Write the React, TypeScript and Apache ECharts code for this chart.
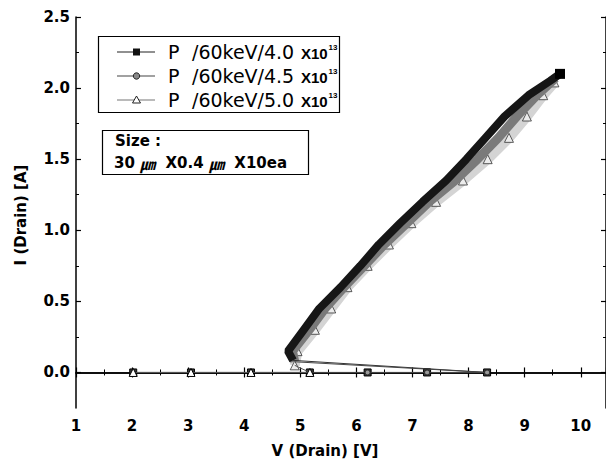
import React, { useEffect, useRef } from "react";
import * as echarts from "echarts";

// ---- data ----
const xTicks = [1, 2, 3, 4, 5, 6, 7, 8, 9, 10];
const yMajor = [0, 0.5, 1.0, 1.5, 2.0, 2.5];
const yMinor = [0.25, 0.75, 1.25, 1.75, 2.25];

// series 1 : P /60keV/4.0 X10^13 (black squares)
const s1LowV = [2.02, 3.05, 4.12, 5.17, 6.2, 7.26, 8.33, 4.87];
const s1LowI = [0, 0, 0, 0, 0, 0, 0, 0.085];
const s1HighV = [4.87, 4.78, 5.06, 5.34, 5.72, 6.07, 6.4, 6.78, 7.18, 7.6, 7.96, 8.3, 8.64, 9.07, 9.45, 9.63];
const s1HighI = [0.085, 0.15, 0.3, 0.45, 0.6, 0.75, 0.9, 1.05, 1.2, 1.35, 1.5, 1.65, 1.8, 1.95, 2.05, 2.1];

// series 2 : P /60keV/4.5 X10^13 (grey circles)
const s2LowV = [2.02, 3.05, 4.12, 5.17, 6.2, 7.26, 8.33, 4.9];
const s2LowI = [0, 0, 0, 0, 0, 0, 0, 0.075];
const s2HighV = [4.9, 4.86, 5.16, 5.44, 5.78, 6.14, 6.5, 6.9, 7.3, 7.76, 8.16, 8.53, 8.86, 9.22, 9.55];
const s2HighI = [0.075, 0.15, 0.3, 0.45, 0.6, 0.75, 0.9, 1.05, 1.2, 1.35, 1.5, 1.65, 1.8, 1.95, 2.07];

// series 3 : P /60keV/5.0 X10^13 (open triangles)
const s3LowV = [2.02, 3.05, 4.12, 5.17, 4.9];
const s3LowI = [0, 0, 0, 0, 0.05];
const s3HighV = [4.9, 4.95, 5.26, 5.55, 5.84, 6.2, 6.58, 6.98, 7.42, 7.9, 8.34, 8.72, 9.04, 9.33, 9.53];
const s3HighI = [0.05, 0.15, 0.3, 0.45, 0.6, 0.75, 0.9, 1.05, 1.2, 1.35, 1.5, 1.65, 1.8, 1.95, 2.04];

const legendDoses = ["/60keV/4.0", "/60keV/4.5", "/60keV/5.0"];

const pairs = (v: number[], i: number[]) => v.map((x, k) => [x, i[k]]);

const FONT = "DejaVu Sans";

export default function App() {
  const ref = useRef<HTMLDivElement>(null);
  useEffect(() => {
    if (!ref.current) return;
    const chart = echarts.init(ref.current, undefined, { renderer: "svg" });

    const axisLine = { show: true, lineStyle: { color: "#000", width: 1.5 } };
    const lbl = { color: "#000", fontFamily: FONT, fontWeight: "bold" as const, fontSize: 15 };

    const lastOnly = (n: number, size: number) => (_v: any, p: any) => (p.dataIndex === n - 1 ? size : 0);
    const notLast = (n: number, size: number) => (_v: any, p: any) => (p.dataIndex === n - 1 ? 0 : size);

    const rowsY = [52, 76, 100];
    const legendGraphics: any[] = [
      { type: "rect", shape: { x: 98.5, y: 36.5, width: 241, height: 76 }, style: { fill: "#fff", stroke: "#000", lineWidth: 1.2 }, z: 100 },
      { type: "rect", shape: { x: 102.5, y: 130.5, width: 206, height: 44 }, style: { fill: "#fff", stroke: "#000", lineWidth: 1.2 }, z: 100 },
      { type: "text", x: 115, y: 141, style: { text: "Size :", font: `bold 15px '${FONT}'`, fill: "#000", textVerticalAlign: "middle" }, z: 101 },
      {
        type: "text",
        x: 114,
        y: 163,
        style: {
          text: "{b|30 }{u|㎛}{b|  X0.4 }{u|㎛}{b|  X10ea}",
          rich: {
            b: { font: `bold 15px '${FONT}'`, fill: "#000" },
            u: { font: "italic bold 15px 'Noto Sans CJK KR'", fill: "#000" },
          },
          textVerticalAlign: "middle",
        },
        z: 101,
      },
    ];
    const lineCols = ["#222", "#444", "#777"];
    rowsY.forEach((y, k) => {
      legendGraphics.push({ type: "line", shape: { x1: 117, y1: y, x2: 155, y2: y }, style: { stroke: lineCols[k], lineWidth: 1.2 }, z: 101 });
      if (k === 0) legendGraphics.push({ type: "rect", shape: { x: 133, y: y - 3.5, width: 7, height: 7 }, style: { fill: "#111" }, z: 102 });
      if (k === 1) legendGraphics.push({ type: "circle", shape: { cx: 136.5, cy: y, r: 3.2 }, style: { fill: "#888", stroke: "#222", lineWidth: 1 }, z: 102 });
      if (k === 2) legendGraphics.push({ type: "polygon", shape: { points: [[136.5, y - 4], [140.5, y + 3], [132.5, y + 3]] }, style: { fill: "#fff", stroke: "#222", lineWidth: 1 }, z: 102 });
      legendGraphics.push({ type: "text", x: 168, y: y, style: { text: "P", font: `19px '${FONT}'`, fill: "#000", textVerticalAlign: "middle" }, z: 101 });
      legendGraphics.push({ type: "text", x: 192, y: y, style: { text: legendDoses[k], font: `19px '${FONT}'`, fill: "#000", textVerticalAlign: "middle" }, z: 101 });
      legendGraphics.push({ type: "text", x: 301, y: y + 1, style: { text: "X10", font: "bold 15px 'Liberation Sans'", fill: "#000", textVerticalAlign: "middle" }, z: 101 });
      legendGraphics.push({ type: "text", x: 328.5, y: y - 5, style: { text: "13", font: "bold 8px 'Liberation Sans'", fill: "#000", textVerticalAlign: "middle" }, z: 101 });
    });

    const option: any = {
      animation: false,
      backgroundColor: "#fff",
      grid: { left: 76, top: 17, width: 530, height: 391, containLabel: false },
      xAxis: [
        {
          type: "value", min: 1, max: 10.45, interval: 1, position: "bottom",
          axisLine, splitLine: { show: false },
          axisTick: { inside: true, length: 5, lineStyle: { color: "#000", width: 1.2 } },
          minorTick: { show: true, splitNumber: 2, length: 3, lineStyle: { color: "#000", width: 1 } },
          axisLabel: { ...lbl, margin: 10, showMaxLabel: false, formatter: (v: number) => (xTicks.includes(v) ? String(v) : "") },
        },
        {
          type: "value", min: 1, max: 10.45, interval: 1, position: "top",
          axisLine, splitLine: { show: false },
          axisTick: { inside: true, length: 5, lineStyle: { color: "#000", width: 1.2 } },
          minorTick: { show: true, splitNumber: 2, length: 3, lineStyle: { color: "#000", width: 1 } },
          axisLabel: { show: false },
        },
      ],
      yAxis: [
        {
          type: "value", min: -0.25, max: 2.5, position: "left", offset: 0,
          axisLine, splitLine: { show: false },
          axisTick: { inside: true, length: 5, customValues: yMajor, lineStyle: { color: "#000", width: 1.2 } },
          axisLabel: { ...lbl, margin: 6, customValues: yMajor, formatter: (v: number) => v.toFixed(1) },
        },
        {
          type: "value", min: -0.25, max: 2.5, position: "left", offset: 0,
          axisLine: { show: false }, splitLine: { show: false },
          axisTick: { inside: true, length: 3, customValues: yMinor, lineStyle: { color: "#000", width: 1 } },
          axisLabel: { show: false },
        },
        {
          type: "value", min: -0.25, max: 2.5, position: "right", offset: 0,
          axisLine, splitLine: { show: false },
          axisTick: { inside: true, length: 5, customValues: yMajor, lineStyle: { color: "#000", width: 1.2 } },
          axisLabel: { show: false },
        },
        {
          type: "value", min: -0.25, max: 2.5, position: "right", offset: 0,
          axisLine: { show: false }, splitLine: { show: false },
          axisTick: { inside: true, length: 3, customValues: yMinor, lineStyle: { color: "#000", width: 1 } },
          axisLabel: { show: false },
        },
      ],
      series: [
        {
          type: "line", data: pairs(s3HighV, s3HighI), showAllSymbol: true,
          lineStyle: { color: "#d4d4d4", width: 10 },
          symbol: "triangle", symbolSize: 9,
          itemStyle: { color: "#ececec", borderColor: "#333", borderWidth: 0.8 }, z: 2,
        },
        {
          type: "line", data: pairs(s2HighV, s2HighI), showAllSymbol: true,
          lineStyle: { color: "#7a7a7a", width: 9 },
          symbol: "circle", symbolSize: 0, itemStyle: { color: "#777" }, z: 3,
        },
        {
          type: "line", data: pairs(s1HighV, s1HighI), showAllSymbol: true,
          lineStyle: { color: "#161616", width: 8 },
          symbol: "rect", symbolSize: lastOnly(s1HighV.length, 10), itemStyle: { color: "#000" }, z: 4,
        },
        {
          type: "line", data: pairs(s1LowV, s1LowI), showAllSymbol: true,
          lineStyle: { color: "#333", width: 1 },
          symbol: "rect", symbolSize: notLast(s1LowV.length, 7),
          itemStyle: { color: "#3a3a3a", borderColor: "#000", borderWidth: 1 }, z: 5,
        },
        {
          type: "line", data: pairs(s2LowV, s2LowI), showAllSymbol: true,
          lineStyle: { color: "#444", width: 1 },
          symbol: "circle", symbolSize: notLast(s2LowV.length, 5),
          itemStyle: { color: "#999", borderColor: "#222", borderWidth: 1 }, z: 6,
        },
        {
          type: "line", data: pairs(s3LowV, s3LowI), showAllSymbol: true,
          lineStyle: { color: "#555", width: 1 },
          symbol: "triangle", symbolSize: notLast(s3LowV.length, 8),
          itemStyle: { color: "#fff", borderColor: "#000", borderWidth: 1 }, z: 7,
        },
      ],
      graphic: [
        ...legendGraphics,
        { type: "text", x: 325, y: 451, style: { text: "V (Drain) [V]", font: `bold 15px '${FONT}'`, fill: "#000", textAlign: "center", textVerticalAlign: "middle" } },
        { type: "text", x: 21, y: 215, rotation: Math.PI / 2, style: { text: "I (Drain) [A]", font: `bold 15px '${FONT}'`, fill: "#000", textAlign: "center", textVerticalAlign: "middle" } },
      ],
    };
    chart.setOption(option);
    return () => chart.dispose();
  }, []);

  return <div ref={ref} style={{ position: "absolute", left: 0, top: 0, width: 606, height: 471 }} />;
}
